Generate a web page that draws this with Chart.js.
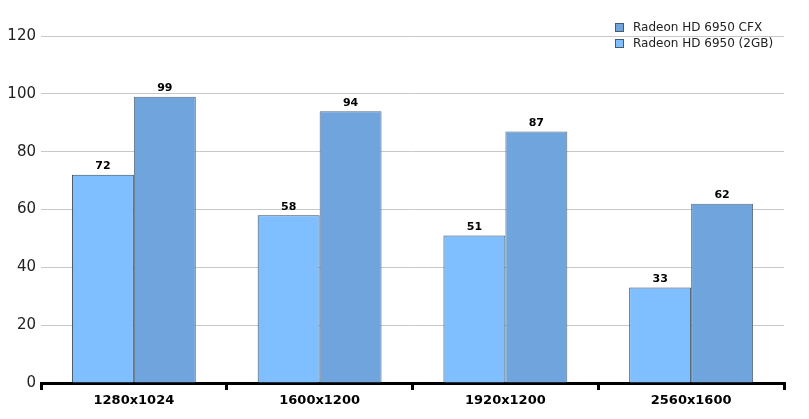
<!DOCTYPE html>
<html>
<head>
<meta charset="utf-8">
<script src="https://cdn.jsdelivr.net/npm/chart.js@4"></script>
<style>
  html, body { margin: 0; padding: 0; background: #fff; }
  #wrap { width: 809px; height: 419px; }
</style>
</head>
<body>
<div id="wrap"><canvas id="chart1" width="809" height="419"></canvas></div>
<script>
const resolutions = ['1280x1024', '1600x1200', '1920x1200', '2560x1600'];
const hd6950 = [72, 58, 51, 33];
const hd6950cfx = [99, 94, 87, 62];
const seriesNames = ['Radeon HD 6950 (2GB)', 'Radeon HD 6950 CFX'];
const yTicks = [0, 20, 40, 60, 80, 100, 120];

// value labels on top of each bar
const barLabels = {
  id: 'barLabels',
  afterDatasetsDraw(chart) {
    const c = chart.ctx;
    c.save();
    c.font = 'bold 11px "DejaVu Sans"';
    c.fillStyle = '#000';
    c.textAlign = 'center';
    c.textBaseline = 'bottom';
    chart.data.datasets.forEach((ds, i) => {
      chart.getDatasetMeta(i).data.forEach((bar, j) => {
        c.fillText(ds.data[j], bar.x, bar.y - 3);
      });
    });
    c.restore();
  }
};

// legend in the top right corner, drawn over the plot
const cornerLegend = {
  id: 'cornerLegend',
  afterDraw(chart) {
    const c = chart.ctx;
    const list = chart.data.datasets.slice().reverse();
    c.save();
    c.font = '12px "DejaVu Sans"';
    c.textBaseline = 'middle';
    list.forEach((ds, k) => {
      const y = 23 + k * 16;
      c.fillStyle = ds.backgroundColor;
      c.fillRect(615.5, y + 0.5, 8, 8);
      c.strokeStyle = '#4a5a6a';
      c.lineWidth = 1;
      c.strokeRect(615.5, y + 0.5, 8, 8);
      c.fillStyle = '#222';
      c.fillText(ds.label, 633, y + 4.5);
    });
    c.restore();
  }
};

const ctx1 = document.getElementById('chart1').getContext('2d');
const chart1 = new Chart(ctx1, {
  type: 'bar',
  data: {
    labels: resolutions,
    datasets: [{
      label: seriesNames[0],
      data: hd6950,
      backgroundColor: '#7fbfff',
      borderColor: '#3a4a5a',
      borderWidth: 1
    }, {
      label: seriesNames[1],
      data: hd6950cfx,
      backgroundColor: '#6fa5dc',
      borderColor: '#5c6c7c',
      borderWidth: 1
    }]
  },
  options: {
    responsive: false,
    animation: false,
    layout: { padding: { top: 36, right: 25, left: 0, bottom: 0 } },
    datasets: { bar: { barPercentage: 1, categoryPercentage: 0.667 } },
    scales: {
      x: {
        offset: true,
        afterFit(scale) { scale.height = 36; },
        border: { display: true, color: '#000', width: 3 },
        grid: {
          offset: true,
          drawOnChartArea: false,
          drawTicks: true,
          tickLength: 7,
          color: '#000',
          lineWidth: 3
        },
        ticks: {
          padding: 3,
          color: '#000',
          font: { family: 'DejaVu Sans', size: 13, weight: 'bold' }
        }
      },
      y: {
        min: 0,
        max: 120,
        afterFit(scale) { scale.width = 41; },
        afterBuildTicks(scale) { scale.ticks = yTicks.map(v => ({ value: v })); },
        border: { display: false },
        grid: { color: '#c8c8c8', lineWidth: 1, drawTicks: false },
        ticks: {
          padding: 5,
          color: '#222',
          font: { family: 'DejaVu Sans', size: 15 }
        }
      }
    },
    plugins: {
      legend: { display: false },
      tooltip: { enabled: false }
    }
  },
  plugins: [barLabels, cornerLegend]
});
</script>
</body>
</html>
